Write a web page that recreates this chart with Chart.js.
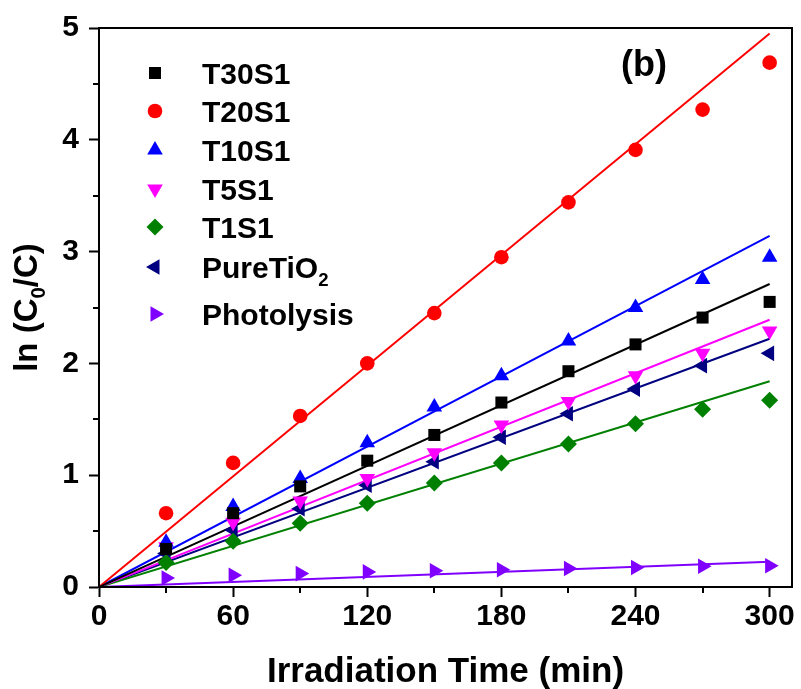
<!DOCTYPE html>
<html>
<head>
<meta charset="utf-8">
<title>ln(C0/C) vs Irradiation Time</title>
<script src="https://cdn.jsdelivr.net/npm/chart.js@4.4.1/dist/chart.umd.min.js"></script>
<style>
  html, body { margin: 0; padding: 0; background: #fff; }
  #wrap { width: 801px; height: 689px; }
</style>
</head>
<body>
<div id="wrap"><canvas id="chartKinetik"></canvas></div>
<script>
// data
const times = [30, 60, 90, 120, 150, 180, 210, 240, 270, 300];
const t30s1 = [0.34, 0.66, 0.9, 1.13, 1.36, 1.65, 1.93, 2.17, 2.41, 2.55];
const t20s1 = [0.66, 1.11, 1.53, 2.0, 2.45, 2.95, 3.44, 3.91, 4.27, 4.69];
const t10s1 = [0.4, 0.72, 0.97, 1.29, 1.61, 1.89, 2.2, 2.5, 2.75, 2.95];
const t5s1 = [0.36, 0.58, 0.77, 0.97, 1.2, 1.45, 1.66, 1.89, 2.09, 2.29];
const t1s1 = [0.22, 0.41, 0.57, 0.75, 0.93, 1.11, 1.28, 1.46, 1.59, 1.67];
const pureTiO2 = [0.3, 0.51, 0.7, 0.91, 1.12, 1.34, 1.55, 1.77, 1.98, 2.09];
const photolysis = [0.08, 0.105, 0.12, 0.135, 0.145, 0.155, 0.165, 0.175, 0.185, 0.19];

// linear fits through the origin: value of each fit line at t = 300 min
const fitTimes = [0, 300];
const fitEnd = [2.71, 4.95, 3.14, 2.39, 1.84, 2.22, 0.226];

const seriesNames = ["T30S1", "T20S1", "T10S1", "T5S1", "T1S1", "PureTiO2", "Photolysis"];
const seriesValues = [t30s1, t20s1, t10s1, t5s1, t1s1, pureTiO2, photolysis];

const xTicks = [0, 30, 60, 90, 120, 150, 180, 210, 240, 270, 300];
const yTicks = [0, 0.5, 1, 1.5, 2, 2.5, 3, 3.5, 4, 4.5, 5];

// tampilan tiap seri
const gaya = [
  { color: "#000000", pointStyle: "rect", radius: 8.5, rotation: 0 },
  { color: "#ff0000", pointStyle: "circle", radius: 7.3, rotation: 0 },
  { color: "#0000ff", pointStyle: "triangle", radius: 9, rotation: 0 },
  { color: "#ff00ff", pointStyle: "triangle", radius: 9, rotation: 180 },
  { color: "#008000", pointStyle: "rectRot", radius: 8.5, rotation: 0 },
  { color: "#000080", pointStyle: "triangle", radius: 9, rotation: -90 },
  { color: "#8000ff", pointStyle: "triangle", radius: 9, rotation: 90 },
];

const FONT = "Liberation Sans, Arial, sans-serif";

const datasets = [];
seriesNames.forEach((name, i) => {
  const g = gaya[i];
  datasets.push({
    label: name,
    data: times.map((t, k) => ({ x: t, y: seriesValues[i][k] })),
    showLine: false,
    pointStyle: g.pointStyle,
    pointRotation: g.rotation,
    pointRadius: g.radius,
    pointHoverRadius: g.radius,
    pointBackgroundColor: g.color,
    pointBorderWidth: 0,
    order: 1,
  });
  datasets.push({
    label: name + " fit",
    data: fitTimes.map((t, k) => ({ x: t, y: k === 0 ? 0 : fitEnd[i] })),
    showLine: true,
    borderColor: g.color,
    borderWidth: 2,
    pointRadius: 0,
    order: 5,
  });
});

// teks dengan subskrip, misal "PureTiO" + "2"
function drawRich(ctx, parts, x, y, size) {
  let cx = x;
  parts.forEach((p) => {
    const s = p.sub ? size * 0.62 : size;
    ctx.font = "bold " + s + "px " + FONT;
    ctx.fillText(p.text, cx, p.sub ? y + size * 0.25 : y);
    cx += ctx.measureText(p.text).width;
  });
}
function richWidth(ctx, parts, size) {
  let w = 0;
  parts.forEach((p) => {
    ctx.font = "bold " + (p.sub ? size * 0.62 : size) + "px " + FONT;
    w += ctx.measureText(p.text).width;
  });
  return w;
}
function splitSub(name) {
  const m = name.match(/^(.*TiO)(2)$/);
  return m ? [{ text: m[1] }, { text: m[2], sub: true }] : [{ text: name }];
}

const hiasan = {
  id: "hiasan",
  afterDraw(chart) {
    const { ctx, chartArea: a, scales } = chart;
    ctx.save();
    ctx.strokeStyle = "#000";
    ctx.lineWidth = 2;
    ctx.strokeRect(a.left, a.top, a.right - a.left, a.bottom - a.top);

    // minor ticks
    ctx.beginPath();
    xTicks.forEach((v) => {
      if (v % 60 === 0) return;
      const px = Math.round(scales.x.getPixelForValue(v));
      ctx.moveTo(px, a.bottom);
      ctx.lineTo(px, a.bottom + 6);
    });
    yTicks.forEach((v) => {
      if (Number.isInteger(v)) return;
      const py = Math.round(scales.y.getPixelForValue(v));
      ctx.moveTo(a.left - 6, py);
      ctx.lineTo(a.left, py);
    });
    ctx.stroke();

    ctx.fillStyle = "#000";
    ctx.textBaseline = "alphabetic";
    ctx.textAlign = "left";

    // judul sumbu x
    const xt = [{ text: "Irradiation Time (min)" }];
    const xw = richWidth(ctx, xt, 35);
    drawRich(ctx, xt, (a.left + a.right) / 2 - xw / 2, 682, 35);

    // judul sumbu y, diputar
    const yt = [{ text: "ln (C" }, { text: "0", sub: true }, { text: "/C)" }];
    const yw = richWidth(ctx, yt, 33);
    ctx.save();
    ctx.translate(37, (a.top + a.bottom) / 2);
    ctx.rotate(-Math.PI / 2);
    drawRich(ctx, yt, -yw / 2, 0, 33);
    ctx.restore();

    // label panel
    ctx.font = "bold 36px " + FONT;
    ctx.fillText("(b)", 621, 76);

    // legenda
    const rowY = [73, 111, 150, 189, 227, 267, 314];
    seriesNames.forEach((name, i) => {
      const g = gaya[i];
      ctx.fillStyle = g.color;
      Chart.helpers.drawPoint(
        ctx,
        { pointStyle: g.pointStyle, radius: g.radius, rotation: g.rotation, borderWidth: 0 },
        155,
        rowY[i]
      );
      ctx.fillStyle = "#000";
      drawRich(ctx, splitSub(name), 202, rowY[i] + 11, 30);
    });
    ctx.restore();
  },
};

const tickFont = { family: FONT, weight: "bold", size: 30 };

new Chart(document.getElementById("chartKinetik").getContext("2d"), {
  type: "scatter",
  data: { datasets: datasets },
  options: {
    responsive: true,
    maintainAspectRatio: false,
    animation: false,
    layout: { padding: { top: 27, right: 8, left: 0, bottom: 0 } },
    plugins: { legend: { display: false }, tooltip: { enabled: false } },
    scales: {
      x: {
        type: "linear",
        min: 0,
        max: 310,
        afterBuildTicks: (scale) => {
          scale.ticks = xTicks.map((v) => ({ value: v }));
        },
        afterFit: (scale) => {
          scale.height = 102;
        },
        ticks: {
          color: "#000",
          font: tickFont,
          padding: 2,
          maxRotation: 0,
          autoSkip: false,
          callback: (v) => (v % 60 === 0 ? v : ""),
        },
        grid: {
          drawOnChartArea: false,
          tickLength: 10,
          tickWidth: 2,
          tickColor: (c) => (c.tick && c.tick.value % 60 === 0 ? "#000" : "rgba(0,0,0,0)"),
        },
        border: { color: "#000", width: 2 },
      },
      y: {
        min: 0,
        max: 5,
        afterBuildTicks: (scale) => {
          scale.ticks = yTicks.map((v) => ({ value: v }));
        },
        afterFit: (scale) => {
          scale.width = 99;
        },
        ticks: {
          color: "#000",
          font: tickFont,
          padding: 10,
          autoSkip: false,
          callback: (v) => (Number.isInteger(v) ? v : ""),
        },
        grid: {
          drawOnChartArea: false,
          tickLength: 10,
          tickWidth: 2,
          tickColor: (c) => (c.tick && Number.isInteger(c.tick.value) ? "#000" : "rgba(0,0,0,0)"),
        },
        border: { color: "#000", width: 2 },
      },
    },
  },
  plugins: [hiasan],
});
</script>
</body>
</html>
